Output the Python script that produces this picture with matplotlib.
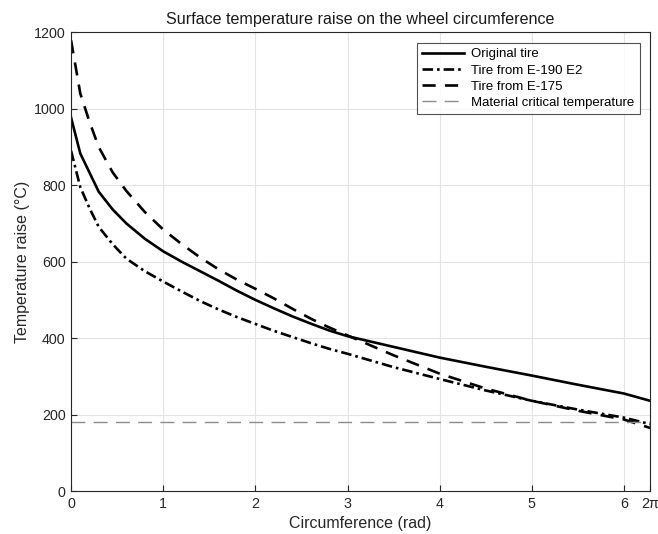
import numpy as np
import matplotlib
matplotlib.use("Agg")
import matplotlib.pyplot as plt

plt.rcParams['font.family'] = ['Liberation Sans', 'DejaVu Sans']

x_pts = [0, 0.1, 0.2, 0.3, 0.45, 0.6, 0.8, 1.0, 1.2, 1.4, 1.6, 1.8, 2.0,
         2.2, 2.4, 2.6, 2.8, 3.0, 3.5, 4.0, 4.5, 5.0, 5.5, 6.0, 2 * np.pi]
original = [977, 883, 833, 783, 737, 700, 660, 627, 600, 575, 550, 524, 500,
            478, 457, 438, 420, 405, 377, 349, 325, 302, 278, 255, 236]
e190 = [890, 795, 740, 691, 646, 608, 575, 548, 522, 497, 475, 455, 437,
        419, 403, 387, 372, 359, 324, 293, 263, 236, 213, 192, 175]
e175 = [1179, 1040, 966, 900, 834, 785, 730, 684, 646, 611, 580, 553, 529,
        504, 477, 451, 428, 407, 355, 307, 268, 236, 210, 187, 165]
critical = 180

xticks = [0, 1, 2, 3, 4, 5, 6, 2 * np.pi]
xticklabels = ['0', '1', '2', '3', '4', '5', '6', '2π']
yticks = [0, 200, 400, 600, 800, 1000, 1200]

fig = plt.figure(figsize=(6.58, 5.34), dpi=100)
ax = fig.add_axes([0.108, 0.0805, 0.880, 0.859])

ax.plot(x_pts, original, color='black', lw=1.9, ls='-', label='Original tire')
ax.plot(x_pts, e190, color='black', lw=1.9, ls=(0, (4, 1.5, 1, 1.5)), label='Tire from E-190 E2')
ax.plot(x_pts, e175, color='black', lw=1.9, ls=(0, (5, 3.5)), label='Tire from E-175')
ax.axhline(critical, color='#8c8c8c', lw=1.0, ls=(0, (10, 6)), label='Material critical temperature')

ax.set_xlim(0, 2 * np.pi)
ax.set_ylim(0, 1200)
ax.set_xticks(xticks)
ax.set_xticklabels(xticklabels)
ax.set_yticks(yticks)
ax.grid(True, color='#e3e3e3', lw=0.8)
ax.set_axisbelow(True)
ax.tick_params(direction='in', length=4, colors='#262626', labelsize=10.3, pad=4)
for s in ax.spines.values():
    s.set_color('#262626')
    s.set_linewidth(0.8)

ax.set_title('Surface temperature raise on the wheel circumference', fontsize=11.6, color='#1a1a1a', pad=6)
ax.set_xlabel('Circumference (rad)', fontsize=11.5, color='#262626', labelpad=4)
ax.set_ylabel('Temperature raise (°C)', fontsize=11.5, color='#262626', labelpad=3)

leg = ax.legend(loc='upper right', fontsize=9.5, handlelength=3.2, frameon=True,
                fancybox=False, edgecolor='#262626', borderpad=0.4, labelspacing=0.3,
                handletextpad=0.5, borderaxespad=0.8)
leg.get_frame().set_linewidth(0.8)

fig.savefig('out.png', dpi=100)
